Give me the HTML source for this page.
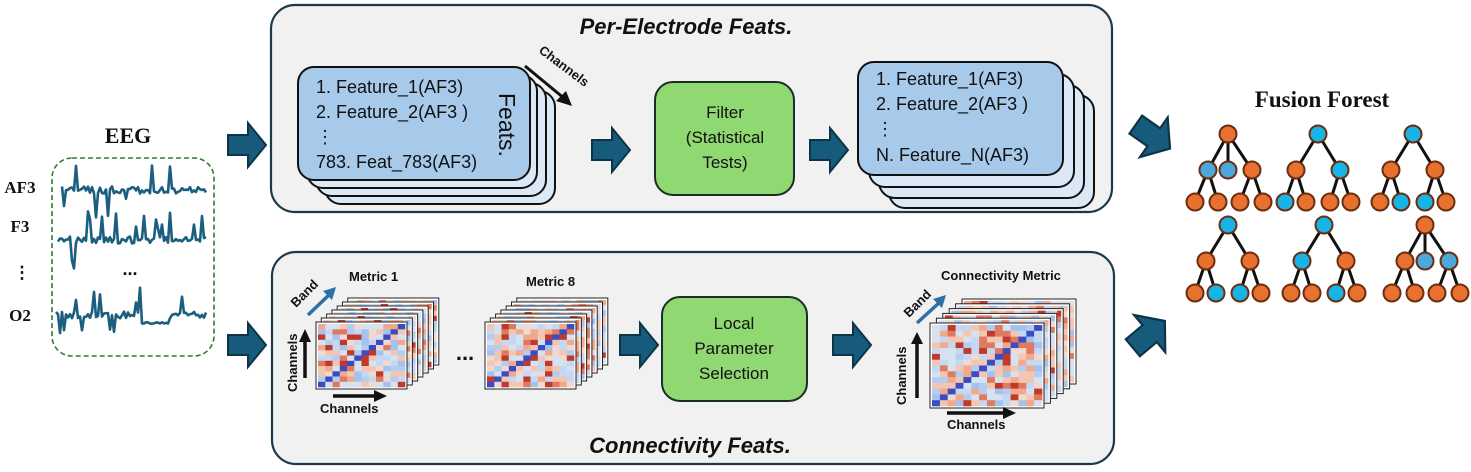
<!DOCTYPE html>
<html><head><meta charset="utf-8">
<style>
html,body{margin:0;padding:0;background:#fff;}
svg{display:block;}
text{font-family:"Liberation Sans",Arial,sans-serif;}
.serif{font-family:"Liberation Serif","DejaVu Serif",serif;font-weight:bold;}
</style></head>
<body>
<svg id="s" width="1471" height="472" viewBox="0 0 1471 472" xmlns="http://www.w3.org/2000/svg">
<defs>
<g id="arr"><path d="M-18,-10 L2,-10 L2,-22 L20,0 L2,22 L2,10 L-18,10 Z" fill="#175b7c" stroke="#0d3447" stroke-width="2" stroke-linejoin="miter"/></g>
</defs>
<rect x="271" y="5" width="841" height="207" rx="24" fill="#f1f1f1" stroke="#1c3a4b" stroke-width="2.2"/>
<rect x="272" y="252" width="842" height="212" rx="24" fill="#f1f1f1" stroke="#1c3a4b" stroke-width="2.2"/>
<text x="686" y="34" font-size="22" font-weight="bold" font-style="italic" text-anchor="middle" fill="#111">Per-Electrode Feats.</text>
<text x="690" y="453" font-size="22" font-weight="bold" font-style="italic" text-anchor="middle" fill="#111">Connectivity Feats.</text>

<text class="serif" x="128" y="143" font-size="22" text-anchor="middle" fill="#111">EEG</text>
<rect x="52" y="158" width="162" height="198" rx="20" fill="#fff" stroke="#2e7d32" stroke-width="1.6" stroke-dasharray="5,3"/>
<text class="serif" x="20" y="193" font-size="17" text-anchor="middle" fill="#111">AF3</text>
<text class="serif" x="20" y="232" font-size="17" text-anchor="middle" fill="#111">F3</text>
<text class="serif" x="22" y="278" font-size="17" text-anchor="middle" fill="#111">⋮</text>
<text class="serif" x="20" y="321" font-size="17" text-anchor="middle" fill="#111">O2</text>
<text x="130" y="275" font-size="18" font-weight="bold" text-anchor="middle" fill="#111">...</text>
<g id="eeg"></g>

<use href="#arr" transform="translate(246,145)"/>
<use href="#arr" transform="translate(246,345)"/>
<use href="#arr" transform="translate(610,150)"/>
<use href="#arr" transform="translate(828,150)"/>
<use href="#arr" transform="translate(638,345)"/>
<use href="#arr" transform="translate(851,345)"/>
<use href="#arr" transform="translate(1152,136) rotate(35) scale(1.1)"/>
<use href="#arr" transform="translate(1148,335) rotate(-40) scale(1.1)"/>

<rect x="325" y="91" width="230" height="113" rx="16" fill="#dbe8f6" stroke="#111" stroke-width="2"/>
<rect x="316" y="83" width="230" height="113" rx="16" fill="#dbe8f6" stroke="#111" stroke-width="2"/>
<rect x="307" y="75" width="230" height="113" rx="16" fill="#dbe8f6" stroke="#111" stroke-width="2"/>
<rect x="298" y="67" width="232" height="113" rx="16" fill="#a7c9ea" stroke="#111" stroke-width="2"/>
<g font-size="18" fill="#111">
<text x="316" y="93">1. Feature_1(AF3)</text>
<text x="316" y="118">2. Feature_2(AF3 )</text>
<text x="316" y="143">⋮</text>
<text x="316" y="168">783. Feat_783(AF3)</text>
</g>
<text x="0" y="0" font-size="23" fill="#111" transform="translate(499,93) rotate(90)">Feats.</text>
<line x1="525" y1="66" x2="565" y2="99" stroke="#111" stroke-width="3"/>
<path d="M572,106 L556,101 L566,91 Z" fill="#111"/>
<text x="0" y="0" font-size="13" font-weight="bold" fill="#111" transform="translate(538,52) rotate(37)">Channels</text>

<rect x="655" y="82" width="139" height="113" rx="18" fill="#8fd872" stroke="#1b2e24" stroke-width="2"/>
<g font-size="17" fill="#111" text-anchor="middle">
<text x="725" y="118">Filter</text>
<text x="725" y="143">(Statistical</text>
<text x="725" y="168">Tests)</text>
</g>

<rect x="889" y="95" width="205" height="113" rx="16" fill="#dbe8f6" stroke="#111" stroke-width="2"/>
<rect x="879" y="85" width="205" height="113" rx="16" fill="#dbe8f6" stroke="#111" stroke-width="2"/>
<rect x="869" y="74" width="205" height="113" rx="16" fill="#dbe8f6" stroke="#111" stroke-width="2"/>
<rect x="858" y="62" width="205" height="113" rx="16" fill="#a7c9ea" stroke="#111" stroke-width="2"/>
<g font-size="18" fill="#111">
<text x="876" y="85">1. Feature_1(AF3)</text>
<text x="876" y="110">2. Feature_2(AF3 )</text>
<text x="876" y="135">⋮</text>
<text x="876" y="161">N. Feature_N(AF3)</text>
</g>

<rect x="662" y="297" width="145" height="104" rx="18" fill="#8fd872" stroke="#1b2e24" stroke-width="2"/>
<g font-size="17" fill="#111" text-anchor="middle">
<text x="734" y="329">Local</text>
<text x="734" y="354">Parameter</text>
<text x="734" y="379">Selection</text>
</g>

<g id="hm"></g>
<g font-size="13" font-weight="bold" fill="#111">
<text x="349" y="281">Metric 1</text>
<text x="526" y="286">Metric 8</text>
<text x="941" y="280">Connectivity Metric</text>
<text x="320" y="413">Channels</text>
<text x="947" y="429">Channels</text>
<text transform="translate(297,392) rotate(-90)">Channels</text>
<text transform="translate(906,405) rotate(-90)">Channels</text>
<text transform="translate(296,308) rotate(-45)">Band</text>
<text transform="translate(909,318) rotate(-45)">Band</text>
</g>
<text x="465" y="360" font-size="22" font-weight="bold" text-anchor="middle" fill="#111">...</text>
<g stroke="#111" stroke-width="3.5">
<line x1="305" y1="378" x2="305" y2="340"/><line x1="333" y1="396" x2="376" y2="396"/>
<line x1="917" y1="398" x2="917" y2="342"/><line x1="947" y1="413" x2="1005" y2="413"/>
</g>
<g fill="#111">
<path d="M299,342 L311,342 L305,329 Z"/><path d="M374,390 L374,402 L387,396 Z"/>
<path d="M911,344 L923,344 L917,332 Z"/><path d="M1003,407 L1003,419 L1016,413 Z"/>
</g>
<g stroke="#2e6fa8" stroke-width="3.5">
<line x1="308" y1="315" x2="330" y2="294"/><line x1="917" y1="323" x2="940" y2="302"/>
</g>
<g fill="#2e6fa8">
<path d="M336,287 L323,291 L332,300 Z"/><path d="M946,295 L933,299 L942,308 Z"/>
</g>

<text class="serif" x="1322" y="107" font-size="23" text-anchor="middle" fill="#111">Fusion Forest</text>
<g id="forest"></g>
</svg>
<script>
var NS="http://www.w3.org/2000/svg";
function el(t,a,p){var e=document.createElementNS(NS,t);for(var k in a)e.setAttribute(k,a[k]);p.appendChild(e);return e;}
var seed=11;function rnd(){seed=(seed*16807)%2147483647;return (seed-1)/2147483646;}
var eg=document.getElementById("eeg");
[[190,62],[240,58],[315,56]].forEach(function(r,i){
 var pts=[];var x=r[1];
 for(;x<=207;x+=2){var y=r[0]+(rnd()-0.5)*7; if(rnd()<0.16) y+= (rnd()<0.6?-1:1)*(10+rnd()*18); if(i==2&&x>140&&x<170)y=r[0]+8+(rnd()-0.5)*2; pts.push(x.toFixed(1)+","+y.toFixed(1));}
 el("polyline",{points:pts.join(" "),fill:"none",stroke:"#1b5e7f","stroke-width":2.6,"stroke-linejoin":"round"},eg);
});
var hm=document.getElementById("hm");
var cols=["#c0392b","#e07a5f","#f2a88a","#f4c5b0","#f0d9cf","#d6e2f0","#c5d8f3","#b3cdf2","#a5c2ee","#f4c5b0","#d6e2f0","#c5d8f3"];
function heat(x,y,w,h,n,front){
 el("rect",{x:x,y:y,width:w,height:h,fill:"#fff",stroke:"#222","stroke-width":1},hm);
 var cw=(w-4)/n,ch=(h-4)/n;
 if(front){
 for(var i=0;i<n;i++)for(var j=0;j<n;j++){
  var c; if(i+j==n-1)c="#3b4cc0";else c=cols[Math.floor(rnd()*cols.length)];
  el("rect",{x:(x+2+j*cw).toFixed(1),y:(y+2+i*ch).toFixed(1),width:(cw+0.3).toFixed(1),height:(ch+0.3).toFixed(1),fill:c},hm);
 }} else {
  for(var j=0;j<n;j++)el("rect",{x:(x+2+j*cw).toFixed(1),y:(y+2).toFixed(1),width:(cw+0.3).toFixed(1),height:4,fill:cols[Math.floor(rnd()*cols.length)]},hm);
  for(var j2=0;j2<n;j2++)el("rect",{x:(x+w-6).toFixed(1),y:(y+2+j2*ch).toFixed(1),width:4,height:(ch+0.3).toFixed(1),fill:cols[Math.floor(rnd()*cols.length)]},hm);
 }
}
function stack(x,y,w,h,L,dx,dy,n){
 for(var k=L;k>=1;k--)heat(x+dx*k,y-dy*k,w,h,n,false);
 heat(x,y,w,h,n,true);
}
stack(316,322,91,67,6,5.3,4,12);
stack(485,322,91,67,6,5.3,4,12);
stack(930,323,114,85,5,6.4,4.8,14);
var fg=document.getElementById("forest");
var O="#e8712f",B="#17b4e8",LB="#4aa8dc";
function node(x,y,c){el("circle",{cx:x,cy:y,r:8.5,fill:c,stroke:"#6b2e10","stroke-width":2},fg);}
function ln(a,b,c,d){el("line",{x1:a,y1:b,x2:c,y2:d,stroke:"#111","stroke-width":3},fg);}
function tree(rx,ry,colsRoot,mid,leaves,three){
 var y2=ry+36,y3=ry+68;
 var mids=three?[[rx-20,mid[0]],[rx,mid[1]],[rx+24,mid[2]]]:[[rx-22,mid[0]],[rx+22,mid[1]]];
 var leafPar=three?[mids[0],mids[0],mids[2],mids[2]]:[mids[0],mids[0],mids[1],mids[1]];
 var lx=three?[rx-33,rx-10,rx+12,rx+35]:[rx-33,rx-12,rx+12,rx+33];
 mids.forEach(function(m){ln(rx,ry,m[0],y2);});
 for(var i=0;i<4;i++)ln(leafPar[i][0],y2,lx[i],y3);
 node(rx,ry,colsRoot);
 mids.forEach(function(m){node(m[0],y2,m[1]);});
 for(var i=0;i<4;i++)node(lx[i],y3,leaves[i]);
}
tree(1228,134,O,[LB,LB,O],[O,O,O,O],true);
tree(1318,134,B,[O,B],[B,O,O,O],false);
tree(1413,134,B,[O,O],[O,B,B,O],false);
tree(1228,225,B,[O,O],[O,B,B,O],false);
tree(1324,225,B,[B,O],[O,O,B,O],false);
tree(1425,225,O,[O,LB,LB],[O,O,O,O],true);
</script>
</body></html>
